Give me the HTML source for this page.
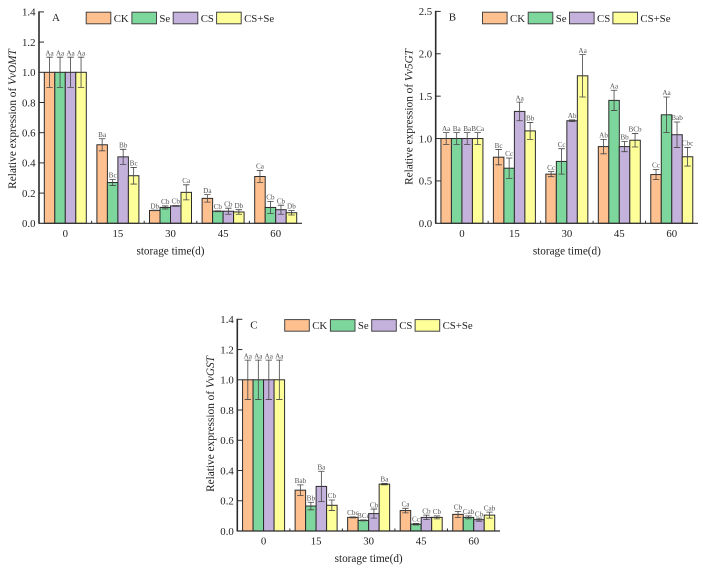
<!DOCTYPE html>
<html lang="en">
<head>
<meta charset="utf-8">
<title>Relative expression charts</title>
<style>
html,body{margin:0;padding:0;background:#fff;width:703px;height:570px;overflow:hidden}
svg{display:block;font-family:"Liberation Serif",serif}
</style>
</head>
<body>
<svg id="figure" width="703" height="570" viewBox="0 0 703 570" xmlns="http://www.w3.org/2000/svg"></svg>
<script>
const categories = ['0', '15', '30', '45', '60'];
const seriesNames = ['CK', 'Se', 'CS', 'CS+Se'];
const seriesColors = ['#FFC08F', '#7DD69C', '#C4B2DC', '#FFFF99'];

const ticksA = [0, 0.2, 0.4, 0.6, 0.8, 1.0, 1.2, 1.4];
const ticksB = [0, 0.5, 1.0, 1.5, 2.0, 2.5];
const ticksC = [0, 0.2, 0.4, 0.6, 0.8, 1.0, 1.2, 1.4];

const valuesA = [
  [1, 0.52, 0.085, 0.165, 0.31],
  [1, 0.27, 0.105, 0.08, 0.105],
  [1, 0.44, 0.115, 0.08, 0.09],
  [1, 0.315, 0.205, 0.075, 0.07]
];
const errorsA = [
  [0.1, 0.04, 0.002, 0.025, 0.04],
  [0.1, 0.02, 0.01, 0.003, 0.04],
  [0.1, 0.05, 0.003, 0.02, 0.03],
  [0.1, 0.055, 0.05, 0.015, 0.015]
];
const lettersA = [
  ['Aa', 'Ba', 'Db', 'Da', 'Ca'],
  ['Aa', 'Bc', 'Cb', 'Cb', 'Cb'],
  ['Aa', 'Bb', 'Cb', 'Cb', 'Cb'],
  ['Aa', 'Bc', 'Ca', 'Db', 'Db']
];

const valuesB = [
  [1, 0.78, 0.58, 0.905, 0.575],
  [1, 0.65, 0.73, 1.45, 1.28],
  [1, 1.32, 1.21, 0.905, 1.045],
  [1, 1.09, 1.74, 0.98, 0.785]
];
const errorsB = [
  [0.07, 0.09, 0.03, 0.085, 0.06],
  [0.07, 0.12, 0.15, 0.12, 0.21],
  [0.07, 0.11, 0.01, 0.06, 0.15],
  [0.07, 0.1, 0.25, 0.08, 0.11]
];
const lettersB = [
  ['Aa', 'Bc', 'Cc', 'Ab', 'Cc'],
  ['Ba', 'Cc', 'Cc', 'Aa', 'Aa'],
  ['Ba', 'Aa', 'Ab', 'Bb', 'Bab'],
  ['BCa', 'Bb', 'Aa', 'BCb', 'Cbc']
];

const valuesC = [
  [1, 0.27, 0.09, 0.135, 0.11],
  [1, 0.165, 0.07, 0.045, 0.09],
  [1, 0.295, 0.115, 0.09, 0.075],
  [1, 0.17, 0.31, 0.09, 0.105]
];
const errorsC = [
  [0.13, 0.035, 0.003, 0.015, 0.02],
  [0.13, 0.025, 0.003, 0.005, 0.01],
  [0.13, 0.1, 0.03, 0.015, 0.01],
  [0.13, 0.035, 0.005, 0.01, 0.02]
];
const lettersC = [
  ['Aa', 'Bab', 'Cbc', 'Ca', 'Cb'],
  ['Aa', 'Bb', 'BCc', 'Cc', 'Cab'],
  ['Aa', 'Ba', 'Cb', 'Cb', 'Cb'],
  ['Aa', 'Cb', 'Ba', 'Cb', 'Cab']
];

const NS = 'http://www.w3.org/2000/svg';
const INK = '#2b2b2b';
const figure = document.getElementById('figure');

function make(parent, tag, attrs, text) {
  const el = document.createElementNS(NS, tag);
  for (const key in attrs) el.setAttribute(key, attrs[key]);
  if (text !== undefined) el.textContent = text;
  parent.appendChild(el);
  return el;
}

function drawPanel(panel) {
  const group = make(figure, 'g', {});
  
  

  const xBand = (i) => panel.left + i * (panel.right - panel.left) / categories.length;
  const barWidth = 10.5;
  const barX = (i, s) => xBand(i) + (panel.right - panel.left) / categories.length / 2 - 2 * barWidth + s * barWidth;
  const y = (v) => panel.bottom - (v / panel.max) * (panel.bottom - panel.top);

  seriesNames.forEach((name, s) => {
    categories.forEach((cat, i) => {
      const v = panel.values[s][i];
      const bar = make(group, 'rect', {
        x: barX(i, s), y: y(v), width: barWidth, height: panel.bottom - y(v),
        fill: seriesColors[s], stroke: INK, 'stroke-width': 1
      });
      
      
    });
  });

  seriesNames.forEach((name, s) => {
    categories.forEach((cat, i) => {
      const v = panel.values[s][i];
      const e = panel.errors[s][i];
      const cx = barX(i, s) + barWidth / 2;
      const whisker = make(group, 'path', {
        d: 'M' + (cx - 3.2) + ' ' + y(v + e) + 'H' + (cx + 3.2) +
           'M' + cx + ' ' + y(v + e) + 'V' + y(v - e) +
           'M' + (cx - 3.2) + ' ' + y(v - e) + 'H' + (cx + 3.2),
        fill: 'none', stroke: '#444', 'stroke-width': 0.8
      });
      
      
      const letter = make(group, 'text', {
        x: cx, y: y(v + e) - 1.8, 'text-anchor': 'middle', 'font-size': 7.2, fill: '#555'
      }, panel.letters[s][i]);
      
      
    });
  });

  const yAxis = make(group, 'line', {
    x1: panel.left, x2: panel.left, y1: panel.top - 0.5, y2: panel.bottom + 0.5, stroke: INK, 'stroke-width': 1.6
  });
  
  
  const xAxis = make(group, 'line', {
    x1: panel.left, x2: panel.right, y1: panel.bottom, y2: panel.bottom, stroke: INK, 'stroke-width': 1.2
  });
  
  

  panel.ticks.forEach((t) => {
    if (t > 0) {
      const tick = make(group, 'line', {
        x1: panel.left, x2: panel.left + 5, y1: y(t), y2: y(t), stroke: INK, 'stroke-width': 1
      });
      
      
    }
    const label = make(group, 'text', {
      x: panel.left - 3.5, y: y(t) + 3.8, 'text-anchor': 'end', 'font-size': 10.8, fill: '#222'
    }, t.toFixed(1));
    
    
  });

  categories.forEach((cat, i) => {
    const label = make(group, 'text', {
      x: xBand(i) + (panel.right - panel.left) / categories.length / 2, y: panel.bottom + 13.5,
      'text-anchor': 'middle', 'font-size': 10.8, fill: '#222'
    }, cat);
    
    
    if (i > 0) {
      const tick = make(group, 'line', {
        x1: xBand(i), x2: xBand(i), y1: panel.bottom, y2: panel.bottom - 2.5, stroke: INK, 'stroke-width': 1
      });
      
      
    }
  });

  const xTitle = make(group, 'text', {
    x: (panel.left + panel.right) / 2, y: panel.bottom + 31,
    'text-anchor': 'middle', 'font-size': 11.2, fill: '#222'
  }, 'storage time(d)');
  
  

  const yTitle = make(group, 'text', {
    transform: 'translate(' + panel.titleX + ' ' + panel.titleY + ') rotate(-90)',
    'text-anchor': 'middle', 'font-size': 11.3, fill: '#222'
  });
  
  
  make(yTitle, 'tspan', {}, 'Relative expression of ');
  make(yTitle, 'tspan', { 'font-style': 'italic' }, panel.gene);

  const letterMark = make(group, 'text', {
    x: panel.left + 13, y: panel.top + 9, 'font-size': 11, fill: '#222'
  }, panel.id);
  
  

  seriesNames.forEach((name, s) => {
    const sx = panel.legendX + panel.legendOffsets[s];
    const swatch = make(group, 'rect', {
      x: sx, y: panel.legendY, width: 24.6, height: 11.6,
      fill: seriesColors[s], stroke: '#444', 'stroke-width': 1
    });
    
    
    const label = make(group, 'text', {
      x: sx + 27.5, y: panel.legendY + 9.6, 'font-size': 10.8, fill: '#222'
    }, name);
    
    
  });
}

const legendOffsets = [0, 45.7, 87, 130.4];

drawPanel({
  id: 'A', gene: 'VvOMT', left: 39, right: 302, top: 11.9, bottom: 223.3, max: 1.4,
  ticks: ticksA, values: valuesA, errors: errorsA, letters: lettersA,
  titleX: 16, titleY: 119, legendX: 86.2, legendY: 12.2, legendOffsets
});
drawPanel({
  id: 'B', gene: 'Vv5GT', left: 435.7, right: 698, top: 11.4, bottom: 223.3, max: 2.5,
  ticks: ticksB, values: valuesB, errors: errorsB, letters: lettersB,
  titleX: 412.5, titleY: 117, legendX: 482.5, legendY: 12.2, legendOffsets
});
drawPanel({
  id: 'C', gene: 'VvGST', left: 237.3, right: 500, top: 319.3, bottom: 531, max: 1.4,
  ticks: ticksC, values: valuesC, errors: errorsC, letters: lettersC,
  titleX: 214, titleY: 424, legendX: 284.7, legendY: 319.6, legendOffsets
});
</script>
</body>
</html>
